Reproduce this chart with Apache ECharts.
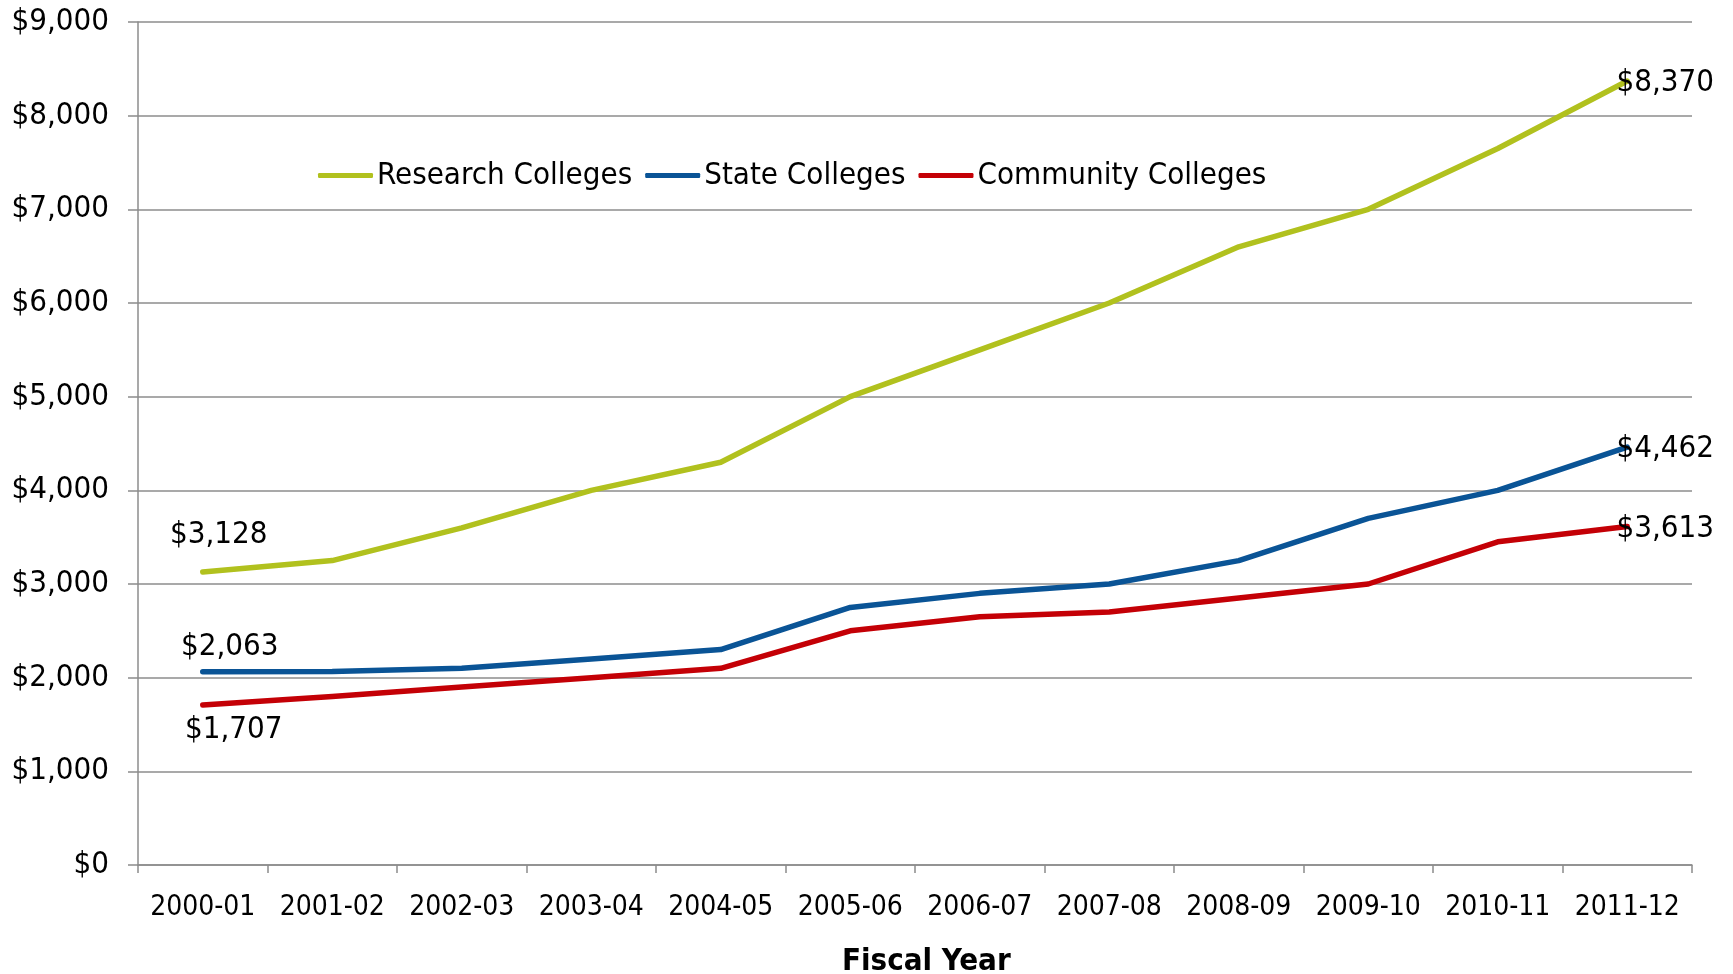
<!DOCTYPE html>
<html>
<head>
<meta charset="utf-8">
<script src="https://cdn.jsdelivr.net/npm/echarts@6/dist/echarts.min.js"></script>
<style>
html,body{margin:0;padding:0;background:#fff;}
#chart{width:1733px;height:974px;}
</style>
</head>
<body>
<div id="chart"></div>
<script>
const categories = ['2000-01','2001-02','2002-03','2003-04','2004-05','2005-06','2006-07','2007-08','2008-09','2009-10','2010-11','2011-12'];
const researchColleges = [3128, 3250, 3600, 4000, 4300, 5000, 5500, 6000, 6600, 7000, 7650, 8370];
const stateColleges = [2063, 2065, 2100, 2200, 2300, 2750, 2900, 3000, 3250, 3700, 4000, 4462];
const communityColleges = [1707, 1800, 1900, 2000, 2100, 2500, 2650, 2700, 2850, 3000, 3450, 3613];
const seriesNames = ['Research Colleges', 'State Colleges', 'Community Colleges'];
const yTicks = [0, 1000, 2000, 3000, 4000, 5000, 6000, 7000, 8000, 9000];

const FONT = '"DejaVu Sans Condensed", "DejaVu Sans", sans-serif';
const GRAY = '#8c8c8c';
const fmt = v => '$' + v.toLocaleString('en-US');

function buildData(values, firstOffset) {
  return values.map((v, i) => {
    if (i === 0) {
      return { value: v, label: { show: true, position: 'inside', offset: firstOffset } };
    }
    if (i === values.length - 1) {
      return { value: v, label: { show: true, position: 'inside', offset: [38, 2] } };
    }
    return v;
  });
}

function makeSeries(name, values, color, firstOffset) {
  return {
    name: name,
    type: 'line',
    data: buildData(values, firstOffset),
    symbol: 'circle',
    symbolSize: 1,
    showSymbol: true,
    itemStyle: { color: color },
    lineStyle: { color: color, width: 5.5, cap: 'round', join: 'round' },
    label: {
      show: false,
      formatter: p => fmt(p.value),
      color: '#000',
      fontFamily: FONT,
      fontSize: 31,
      align: 'center',
      verticalAlign: 'middle'
    },
    emphasis: { disabled: true },
    animation: false
  };
}

const chart = echarts.init(document.getElementById('chart'), null, { renderer: 'canvas' });
chart.setOption({
  backgroundColor: '#ffffff',
  animation: false,
  title: {
    text: 'Fiscal Year',
    left: 842,
    top: 946,
    padding: 0,
    textStyle: { fontFamily: FONT, fontSize: 31, fontWeight: 'bold', color: '#000' }
  },
  legend: {
    left: 318,
    top: 160,
    padding: 0,
    itemGap: 13,
    itemWidth: 55,
    itemHeight: 5,
    icon: 'roundRect',
    data: seriesNames,
    textStyle: { fontFamily: FONT, fontSize: 31, color: '#000', padding: [0, 0, 0, -1] }
  },
  grid: { left: 138, right: 41, top: 22, bottom: 109, containLabel: false },
  xAxis: {
    type: 'category',
    data: categories,
    boundaryGap: true,
    axisLine: { show: true, lineStyle: { color: GRAY, width: 1.5 } },
    axisTick: { show: true, length: 8, inside: false, lineStyle: { color: GRAY, width: 1.5 } },
    axisLabel: { fontFamily: FONT, fontSize: 28, color: '#000', margin: 29, interval: 0 },
    splitLine: { show: false }
  },
  yAxis: {
    type: 'value',
    min: yTicks[0],
    max: yTicks[yTicks.length - 1],
    interval: 1000,
    axisLine: { show: true, lineStyle: { color: GRAY, width: 1.5 } },
    axisTick: { show: true, length: 10, inside: false, lineStyle: { color: GRAY, width: 1.5 } },
    axisLabel: { fontFamily: FONT, fontSize: 31, color: '#000', margin: 29, formatter: v => fmt(v) },
    splitLine: { show: true, lineStyle: { color: GRAY, width: 1.5 } }
  },
  series: [
    makeSeries(seriesNames[0], researchColleges, '#B1C11E', [16, -37]),
    makeSeries(seriesNames[1], stateColleges, '#0A5496', [27, -25]),
    makeSeries(seriesNames[2], communityColleges, '#C40006', [31, 25])
  ]
});
</script>
</body>
</html>
